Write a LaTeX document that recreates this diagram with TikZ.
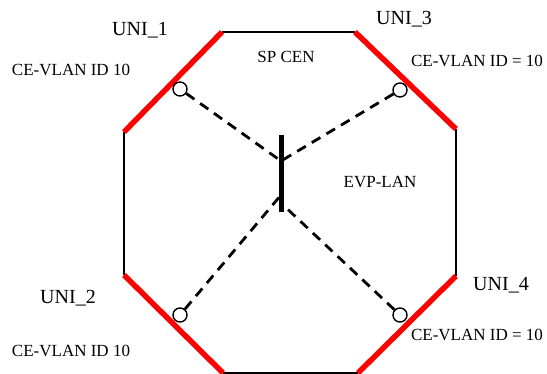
\documentclass[tikz,border=0pt]{standalone}
\usepackage{fontspec}
\setmainfont{Liberation Serif}
\usetikzlibrary{calc}

\tikzset{
	edge/.style={line width=1.8pt, black},
	unilink/.style={line width=5.5pt, red},
	port/.style={circle, draw, line width=1.4pt, fill=white, minimum size=14pt, inner sep=0pt},
	evc/.style={line width=2.8pt, dash pattern=on 10pt off 7pt},
	unilabel/.style={font=\fontsize{20}{20}\selectfont},
	idlabel/.style={font=\fontsize{17}{17}\selectfont},
}

\begin{document}
\begin{tikzpicture}[x=1pt, y=-1pt]
	% Page size (pixel units)
	\useasboundingbox (0,0) rectangle (547,373);

	% Octagon corners
	\coordinate (C1) at (222,32);
	\coordinate (C2) at (355,32);
	\coordinate (C3) at (456,129);
	\coordinate (C4) at (456,276);
	\coordinate (C5) at (358,373);
	\coordinate (C6) at (223,373);
	\coordinate (C7) at (124,275);
	\coordinate (C8) at (124,132);

	% Plain sides
	\draw[edge] (C1) -- (C2);
	\draw[edge] (C3) -- (C4);
	\draw[edge] (C5) -- (C6);
	\draw[edge] (C7) -- (C8);

	% UNI sides (red)
	\foreach \a/\b in {C2/C3, C4/C5, C6/C7, C8/C1}
		\draw[unilink] (\a) -- (\b);

	% Bridge bar in the middle
	\coordinate (BarTop) at (281,135);
	\coordinate (BarBot) at (281,212);
	\draw[line width=5pt] (BarTop) -- (BarBot);
	\coordinate (J1) at (281,161);
	\coordinate (J3) at (281,161);
	\coordinate (J2) at (281,195);
	\coordinate (J4) at (281,203);

	% Ports on the UNIs
	\node[port] (P1) at (180,89) {};
	\node[port] (P3) at (400,90) {};
	\node[port] (P2) at (180,315) {};
	\node[port] (P4) at (400,315) {};

	% Dashed EVC legs
	\foreach \i in {1,...,4}
		\draw[evc] (P\i) -- (J\i);

	% Labels
	\node[unilabel] (L1) at (140,30) {UNI\_1};
	\node[unilabel] (L3) at (404,19) {UNI\_3};
	\node[unilabel] (L2) at (68,298) {UNI\_2};
	\node[unilabel] (L4) at (501,285) {UNI\_4};
	\node[idlabel] (V1) at (71,70) {CE-VLAN ID 10};
	\node[idlabel] (V3) at (477,61) {CE-VLAN ID = 10};
	\node[idlabel] (V2) at (71,351) {CE-VLAN ID 10};
	\node[idlabel] (V4) at (477,335) {CE-VLAN ID = 10};
	\node[idlabel] (cen) at (286,57) {SP CEN};
	\node[idlabel] (lan) at (380,182) {EVP-LAN};
\end{tikzpicture}
\end{document}
